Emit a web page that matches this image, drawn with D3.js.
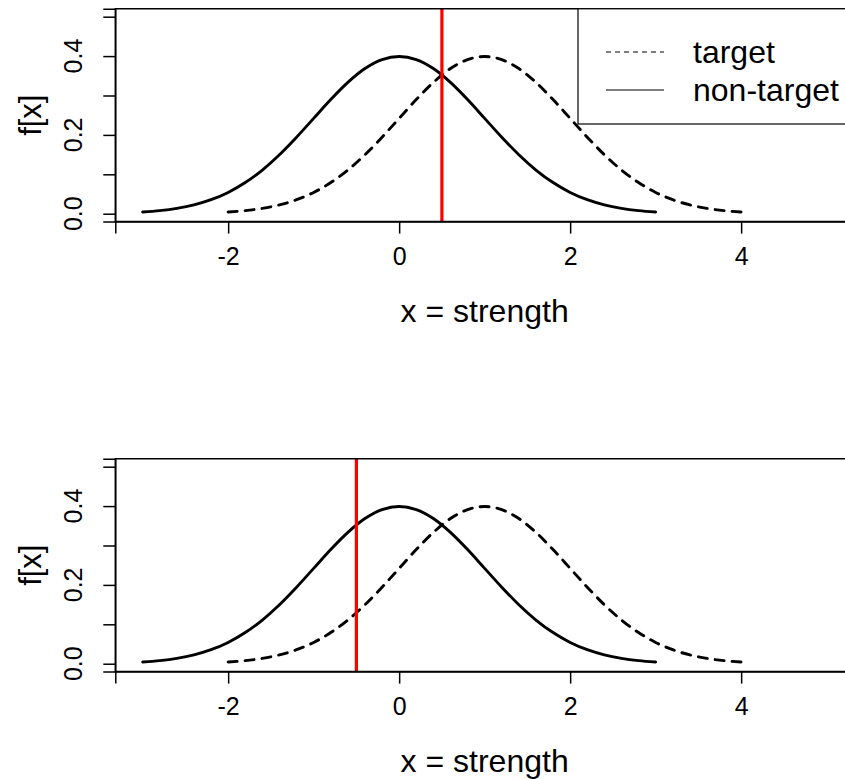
<!DOCTYPE html>
<html>
<head>
<meta charset="utf-8">
<script src="https://cdn.jsdelivr.net/npm/d3@7"></script>
<style>
  html, body { margin: 0; padding: 0; background: #fff; }
  svg { display: block; }
  text { font-family: "Liberation Sans", Arial, Helvetica, sans-serif; fill: #000; }
</style>
</head>
<body>
<svg id="chart" width="845" height="779"></svg>
<script>
// Normal density curves: non-target N(0,1) and target N(1,1)
const nonTargetX = [-3.0,-2.8,-2.6,-2.4,-2.2,-2.0,-1.8,-1.6,-1.4,-1.2,-1.0,-0.8,-0.6,-0.4,-0.2,0.0,
                    0.2,0.4,0.6,0.8,1.0,1.2,1.4,1.6,1.8,2.0,2.2,2.4,2.6,2.8,3.0];
const nonTargetY = [0.0044,0.0079,0.0136,0.0224,0.0355,0.0540,0.0790,0.1109,0.1497,0.1942,0.2420,0.2897,0.3332,0.3683,0.3910,0.3989,
                    0.3910,0.3683,0.3332,0.2897,0.2420,0.1942,0.1497,0.1109,0.0790,0.0540,0.0355,0.0224,0.0136,0.0079,0.0044];
const targetX = [-2.0,-1.8,-1.6,-1.4,-1.2,-1.0,-0.8,-0.6,-0.4,-0.2,0.0,0.2,0.4,0.6,0.8,1.0,
                 1.2,1.4,1.6,1.8,2.0,2.2,2.4,2.6,2.8,3.0,3.2,3.4,3.6,3.8,4.0];
const targetY = [0.0044,0.0079,0.0136,0.0224,0.0355,0.0540,0.0790,0.1109,0.1497,0.1942,0.2420,0.2897,0.3332,0.3683,0.3910,0.3989,
                 0.3910,0.3683,0.3332,0.2897,0.2420,0.1942,0.1497,0.1109,0.0790,0.0540,0.0355,0.0224,0.0136,0.0079,0.0044];

// Decision criterion for each panel
const criteria = [0.5, -0.5];

const xTicks = [-2, 0, 2, 4];
const yTicks = [0, 0.1, 0.2, 0.3, 0.4, 0.5];
const yTickLabels = ["0.0", "", "0.2", "", "0.4", ""];
const legendLabels = ["target", "non-target"];
const xLabel = "x = strength";
const yLabel = "f[x]";

const xDomain = [-3.32, 5.32];
const yDomain = [-0.02, 0.52];

const svg = d3.select("#chart");

const x = d3.scaleLinear().domain(xDomain).range([115.3, 854]);

const nonTarget = nonTargetX.map((v, i) => [v, nonTargetY[i]]);
const target = targetX.map((v, i) => [v, targetY[i]]);

const panelTops = [0, 450];

panelTops.forEach((top, p) => {
  const y = d3.scaleLinear().domain(yDomain).range([top + 221.6, top + 8.8]);
  const g = svg.append("g");

  const line = d3.line().x(d => x(d[0])).y(d => y(d[1])).curve(d3.curveMonotoneX);

  // curves
  g.append("path").datum(nonTarget)
    .attr("d", line).attr("fill", "none").attr("stroke", "#000")
    .attr("stroke-width", 2.9).attr("stroke-linejoin", "round").attr("stroke-linecap", "round");
  g.append("path").datum(target)
    .attr("d", line).attr("fill", "none").attr("stroke", "#000")
    .attr("stroke-width", 2.9).attr("stroke-linejoin", "round").attr("stroke-linecap", "round")
    .attr("stroke-dasharray", "9,8");

  // criterion line
  g.append("line")
    .attr("x1", x(criteria[p])).attr("x2", x(criteria[p]))
    .attr("y1", y(yDomain[0])).attr("y2", y(yDomain[1]))
    .attr("stroke", "#ff0000").attr("stroke-width", 3.2);

  // plot box (right edge falls outside the canvas)
  const x0 = x(xDomain[0]), x1 = x(xDomain[1]);
  g.append("path")
    .attr("d", `M${x1},${y(yDomain[1])}H${x0}V${y(yDomain[0])}H${x1}`)
    .attr("fill", "none").attr("stroke", "#000").attr("stroke-width", 1.5);

  // x axis
  const xAxis = g.append("g").attr("transform", `translate(0,${y(yDomain[0])})`)
    .call(d3.axisBottom(x).tickValues(xTicks).tickSize(12).tickPadding(14)
      .tickFormat(d => d < 0 ? "-" + Math.abs(d) : String(d)));
  xAxis.select(".domain").attr("stroke-width", 1.5);
  xAxis.selectAll(".tick line").attr("stroke-width", 1.5);
  xAxis.selectAll(".tick text").style("font-size", "25px").style("font-family", "Liberation Sans, Arial, sans-serif");

  // y axis with rotated tick labels
  const yAxis = g.append("g").attr("transform", `translate(${x0},0)`)
    .call(d3.axisLeft(y).tickValues(yTicks).tickSize(12).tickFormat(""));
  yAxis.select(".domain").attr("stroke-width", 1.5);
  yAxis.selectAll(".tick line").attr("stroke-width", 1.5);
  g.selectAll(".ylab").data(yTicks).enter().append("text")
    .attr("transform", d => `translate(82,${y(d)}) rotate(-90)`)
    .attr("text-anchor", "middle")
    .style("font-size", "25px")
    .text((d, i) => yTickLabels[i]);

  // axis titles
  g.append("text").attr("x", x(1.0)).attr("y", top + 322)
    .attr("text-anchor", "middle").style("font-size", "32px").text(xLabel);
  g.append("text").attr("transform", `translate(41,${(y(yDomain[0]) + y(yDomain[1])) / 2}) rotate(-90)`)
    .attr("text-anchor", "middle").style("font-size", "31px").text(yLabel);

  // legend on the first panel
  if (p === 0) {
    const lg = g.append("g");
    lg.append("rect").attr("x", 578).attr("y", y(yDomain[1]))
      .attr("width", 300).attr("height", 124 - y(yDomain[1]))
      .attr("fill", "#fff").attr("stroke", "#000").attr("stroke-width", 1.2);
    const rows = [52, 90];
    legendLabels.forEach((lab, i) => {
      lg.append("line").attr("x1", 606).attr("x2", 664).attr("y1", rows[i]).attr("y2", rows[i])
        .attr("stroke", "#000").attr("stroke-width", 1.2)
        .attr("stroke-dasharray", i === 0 ? "5,4" : null);
      lg.append("text").attr("x", 693).attr("y", rows[i]).attr("dy", "0.35em")
        .style("font-size", "32px").text(lab);
    });
  }
});
</script>
</body>
</html>
